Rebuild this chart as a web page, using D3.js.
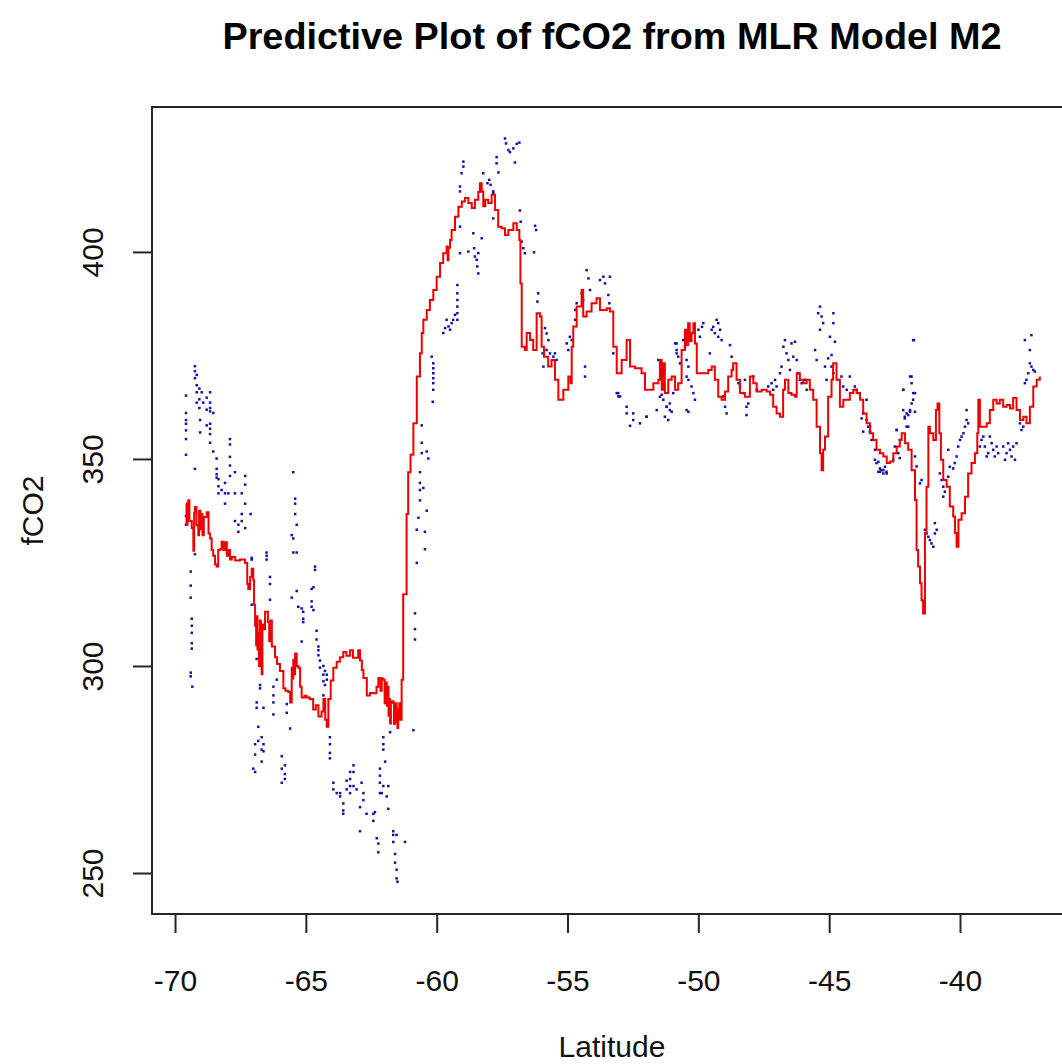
<!DOCTYPE html>
<html><head><meta charset="utf-8">
<script src="https://cdn.jsdelivr.net/npm/d3@7/dist/d3.min.js"></script>
<style>html,body{margin:0;padding:0;background:#fff;overflow:hidden}svg{display:block}text{font-family:"Liberation Sans",Arial,sans-serif}</style>
</head><body>
<script>
// ---------- DATA ----------
const titleText = "Predictive Plot of fCO2 from MLR Model M2";
const xLabel = "Latitude";
const yLabel = "fCO2";
const xTicks = [-70, -65, -60, -55, -50, -45, -40];
const yTicks = [250, 300, 350, 400];

// Model M2 prediction (red line)
const predLat = [
-69.58,-69.56,-69.52,-69.49,-69.45,-69.36,-69.30,-69.27,-69.24,-69.18,-69.11,-69.08,-69.03,-68.98,-68.95,-68.90,-68.79,-68.72,-68.66,-68.60,
-68.54,-68.47,-68.41,-68.35,-68.28,-68.22,-68.15,-68.08,-68.02,-67.95,-67.90,-67.83,-67.70,-67.52,-67.33,-67.24,-67.20,-67.13,-67.07,-67.01,
-66.98,-66.94,-66.90,-66.88,-66.85,-66.82,-66.79,-66.76,-66.72,-66.69,-66.66,-66.63,-66.56,-66.50,-66.45,-66.40,-66.35,-66.30,-66.18,-66.10,
-65.99,-65.86,-65.78,-65.67,-65.60,-65.54,-65.51,-65.48,-65.44,-65.41,-65.35,-65.29,-65.22,-65.16,-65.05,-64.97,-64.85,-64.72,-64.62,-64.52,
-64.40,-64.33,-64.26,-64.20,-64.14,-64.05,-63.95,-63.82,-63.70,-63.57,-63.45,-63.31,-63.20,-63.00,-62.93,-62.86,-62.80,-62.67,-62.55,-62.42,
-62.30,-62.23,-62.15,-62.10,-62.04,-61.99,-61.97,-61.91,-61.88,-61.84,-61.80,-61.78,-61.75,-61.72,-61.66,-61.63,-61.60,-61.56,-61.53,-61.50,
-61.47,-61.43,-61.40,-61.34,-61.28,-61.15,-61.09,-61.00,-60.89,-60.76,-60.64,-60.57,-60.51,-60.38,-60.26,-60.13,-60.00,-59.87,-59.75,-59.62,
-59.58,-59.55,-59.49,-59.43,-59.30,-59.17,-59.04,-58.92,-58.79,-58.66,-58.54,-58.41,-58.35,-58.28,-58.22,-58.15,-58.03,-57.90,-57.77,-57.65,
-57.52,-57.39,-57.26,-57.07,-56.94,-56.84,-56.80,-56.75,-56.63,-56.56,-56.43,-56.31,-56.18,-56.05,-55.99,-55.90,-55.74,-55.61,-55.48,-55.35,
-55.16,-54.97,-54.88,-54.84,-54.78,-54.65,-54.46,-54.40,-54.27,-54.08,-53.89,-53.76,-53.50,-53.38,-53.25,-53.12,-52.93,-52.74,-52.61,-52.42,
-52.17,-52.04,-51.72,-51.53,-51.47,-51.40,-51.34,-51.28,-51.15,-51.02,-50.89,-50.77,-50.64,-50.51,-50.45,-50.39,-50.33,-50.26,-50.19,-50.13,
-50.06,-49.94,-49.75,-49.62,-49.49,-49.37,-49.24,-49.11,-48.98,-48.86,-48.73,-48.67,-48.54,-48.41,-48.22,-48.03,-47.90,-47.77,-47.58,-47.39,
-47.26,-47.14,-47.01,-46.88,-46.76,-46.69,-46.56,-46.44,-46.31,-46.24,-46.12,-45.99,-45.86,-45.74,-45.61,-45.48,-45.35,-45.29,-45.23,-45.16,
-45.04,-44.91,-44.85,-44.72,-44.59,-44.46,-44.33,-44.21,-44.08,-43.95,-43.82,-43.70,-43.57,-43.44,-43.32,-43.19,-43.06,-42.93,-42.80,-42.68,
-42.55,-42.42,-42.30,-42.23,-42.10,-41.98,-41.85,-41.72,-41.66,-41.60,-41.53,-41.47,-41.41,-41.34,-41.28,-41.21,-41.15,-41.02,-40.92,-40.86,
-40.79,-40.73,-40.64,-40.51,-40.39,-40.26,-40.19,-40.13,-40.06,-39.94,-39.81,-39.69,-39.56,-39.43,-39.34,-39.30,-39.24,-39.11,-38.98,-38.86,
-38.73,-38.60,-38.48,-38.35,-38.22,-38.09,-37.97,-37.84,-37.71,-37.58,-37.46,-37.33,-37.20,-37.07,-36.95];
const predFco2 = [
339.2,334.1,339.5,340.0,335.0,333.3,327.8,337.0,338.4,334.0,331.6,337.5,333.0,336.7,331.6,336.0,337.1,332.0,330.8,328.0,
326.6,324.5,324.0,328.0,328.2,330.0,328.0,329.9,326.6,328.0,325.7,326.3,325.5,325.7,324.9,319.8,318.6,321.5,323.5,320.7,
314.8,309.7,305.0,312.0,304.0,308.0,300.0,311.0,308.0,298.0,310.0,308.9,313.1,313.1,310.6,306.0,311.0,304.7,302.1,300.5,
298.8,294.6,294.0,293.7,291.2,299.6,297.0,301.5,298.0,303.0,300.0,299.6,295.0,292.4,292.8,292.4,292.0,289.5,290.5,287.8,
289.0,292.0,287.0,285.3,292.0,296.5,299.6,301.0,302.1,303.4,302.5,303.8,302.0,303.8,301.3,299.0,297.1,292.9,293.5,293.4,
295.0,297.1,294.0,297.0,296.7,291.0,296.0,290.4,295.0,288.0,292.0,286.1,291.0,291.5,291.2,286.0,286.5,291.0,289.5,285.0,
287.0,291.0,287.0,296.7,317.3,336.7,346.8,351.0,358.6,369.9,375.5,380.4,383.6,386.0,388.4,390.8,394.0,397.3,399.7,401.3,
398.0,401.0,402.9,405.3,408.5,410.9,412.2,413.0,411.8,410.6,412.6,414.5,416.6,414.6,411.0,412.6,411.8,413.8,410.1,406.1,
405.7,404.1,405.3,406.9,405.3,402.9,392.4,377.1,376.3,380.4,378.7,376.3,385.2,384.4,377.1,374.7,372.3,373.9,369.1,364.3,
366.7,369.9,368.3,377.1,382.0,386.8,390.8,384.4,385.6,387.6,388.8,386.0,386.4,385.6,377.1,370.7,373.9,378.7,372.3,371.9,
370.7,366.7,368.3,369.1,373.9,366.7,373.1,365.9,369.1,369.9,366.7,368.3,376.3,381.2,377.5,382.8,378.5,380.4,382.8,377.9,
370.7,370.7,370.7,371.5,372.3,369.1,365.0,364.3,366.3,369.9,371.5,373.1,369.1,365.9,365.0,369.9,368.3,366.3,366.7,366.3,
365.5,362.6,361.0,360.2,366.7,369.1,365.9,365.5,365.0,370.7,369.1,368.3,369.1,366.7,364.3,357.8,351.4,347.3,352.2,355.4,
365.0,369.1,373.1,369.1,362.6,364.3,364.3,365.9,366.7,365.9,364.3,361.0,358.6,356.2,354.6,352.2,351.4,350.6,349.0,349.4,
351.4,353.0,354.6,356.2,353.8,352.2,347.3,340.1,328.0,324.0,320.0,315.9,312.7,332.1,343.3,357.8,356.2,354.6,361.8,363.4,
356.2,349.8,344.9,343.3,338.5,336.1,332.1,328.8,335.3,336.9,340.9,346.5,349.0,351.4,356.2,364.3,357.8,357.8,358.6,361.8,
364.3,363.4,364.3,362.6,363.0,362.2,364.7,361.8,359.4,360.2,358.6,362.6,367.5,369.1,369.9];

// Observed fCO2 (blue points)
const obsLat = [
-69.58,-69.58,-69.58,-69.58,-69.58,-69.58,-69.58,-69.58,-69.58,-69.40,-69.40,-69.40,-69.40,-69.40,-69.36,-69.36,-69.36,-69.36,-69.36,-69.34,
-69.24,-69.24,-69.24,-69.24,-69.24,-69.17,-69.17,-69.17,-69.17,-69.07,-69.07,-69.07,-69.04,-69.04,-68.98,-68.92,-68.79,-68.79,-68.79,-68.66,
-68.66,-68.66,-68.66,-68.66,-68.66,-68.66,-68.66,-68.54,-68.54,-68.41,-68.41,-68.41,-68.41,-68.34,-68.34,-68.34,-68.22,-68.09,-68.09,-68.09,
-67.96,-67.90,-67.90,-67.90,-67.90,-67.90,-67.71,-67.71,-67.71,-67.58,-67.58,-67.45,-67.45,-67.45,-67.32,-67.32,-67.32,-67.32,-67.11,-67.07,
-67.07,-67.07,-67.01,-66.94,-66.94,-66.94,-66.88,-66.88,-66.88,-66.82,-66.82,-66.75,-66.75,-66.69,-66.69,-66.69,-66.62,-66.62,-66.62,-66.50,
-66.50,-66.50,-66.37,-66.37,-66.37,-66.24,-66.24,-66.24,-66.24,-66.11,-65.92,-65.92,-65.92,-65.80,-65.80,-65.80,-65.73,-65.73,-65.60,-65.54,
-65.54,-65.48,-65.48,-65.48,-65.41,-65.41,-65.41,-65.35,-65.35,-65.35,-65.29,-65.16,-65.16,-65.10,-65.10,-65.10,-64.78,-64.78,-64.78,-64.71,
-64.71,-64.65,-64.65,-64.59,-64.59,-64.52,-64.52,-64.52,-64.46,-64.46,-64.33,-64.33,-64.33,-64.33,-64.27,-64.27,-64.20,-64.20,-64.08,-64.08,
-64.08,-64.08,-63.95,-63.95,-63.82,-63.69,-63.69,-63.57,-63.57,-63.57,-63.44,-63.44,-63.31,-63.31,-63.31,-63.31,-63.18,-63.18,-63.18,-63.06,
-62.93,-62.93,-62.87,-62.80,-62.80,-62.68,-62.42,-62.42,-62.36,-62.29,-62.23,-62.23,-62.17,-62.17,-62.17,-62.17,-62.10,-62.04,-62.04,-62.04,
-62.04,-61.97,-61.91,-61.85,-61.85,-61.78,-61.66,-61.66,-61.66,-61.59,-61.59,-61.53,-61.53,-61.53,-61.50,-61.21,-60.89,-60.83,-60.83,-60.83,
-60.76,-60.76,-60.70,-60.64,-60.64,-60.64,-60.64,-60.57,-60.57,-60.57,-60.51,-60.45,-60.45,-60.38,-60.38,-60.32,
-60.19,-60.13,-60.13,-60.13,-60.13,-60.13,-60.13,-60.15,-59.75,-59.68,-59.62,-59.55,-59.49,-59.43,-59.37,-59.30,-59.21,-59.21,-59.21,-59.21,
-59.21,-59.21,-59.11,-59.11,-59.11,-59.11,-59.05,-58.98,-58.98,-58.79,-58.60,-58.57,-58.54,-58.47,-58.41,-58.45,-58.41,-58.28,-58.22,-58.15,
-58.06,-57.99,-57.94,-57.84,-57.84,-57.84,-57.71,-57.71,-57.64,-57.39,-57.35,-57.26,-57.20,-57.07,-57.01,-56.94,-56.84,-56.82,-56.79,-56.75,
-56.69,-56.63,-56.28,-56.24,-56.20,-56.15,-56.12,-55.86,-55.80,-55.73,-55.80,-55.67,-55.54,-55.48,-55.95,-55.92,-55.42,-55.03,-54.97,-54.91,
-54.84,-54.71,-54.65,-54.71,-54.46,-54.40,-54.33,-54.33,-54.27,-54.20,-54.14,-53.76,-53.63,-53.57,-53.44,-53.38,-53.40,-53.25,-53.06,-52.99,
-52.74,-52.49,-51.98,-51.59,-51.47,-51.21,-51.09,-51.53,-50.83,-50.83,-52.74,-52.49,-52.23,-51.98,-53.12,-53.06,-52.61,
-51.40,-51.34,-51.21,-51.09,-51.02,-51.28,-51.15,-50.96,-50.89,-50.83,-50.77,-50.70,-50.58,-50.51,-50.45,-50.38,-50.45,-50.38,-50.26,-50.19,
-50.13,-50.45,-50.38,-50.00,-49.94,-49.86,-49.81,-49.49,-49.43,-49.37,-49.30,-49.24,-49.17,-49.11,-49.24,-49.56,-49.05,-48.98,-48.92,-48.79,
-48.73,-48.47,-48.41,-48.28,-48.22,-48.16,-48.09,-48.16,-47.90,-47.77,-47.33,-47.20,-47.14,-47.07,-47.01,-46.88,-46.82,-46.75,-46.69,-46.63,
-46.56,-46.50,-46.44,-46.37,-46.31,-46.24,-46.18,-46.12,-46.05,-45.93,-45.86,-45.54,-45.48,-45.42,-45.35,-45.29,-45.23,-45.35,-45.16,-45.10,
-45.04,-44.97,-44.91,-44.84,-44.84,-44.78,-44.91,-44.84,-44.53,-44.46,-44.33,-44.21,-44.02,-43.95,-43.89,-43.70,-43.57,-43.44,-43.44,-43.70,
-43.25,-43.12,-43.06,-42.93,-42.80,-42.55,-42.42,-42.30,-42.17,-42.11,-42.04,-41.98,-41.91,-41.85,-41.79,-41.72,
-43.76,-43.57,-43.51,-43.44,-43.38,-43.25,-43.19,-43.12,-43.06,-43.00,-42.93,-42.87,-42.81,-42.49,-42.42,-42.36,-42.30,-42.17,-42.17,-42.11,
-42.04,-41.98,-41.91,-41.91,-41.85,-41.79,-41.79,-41.85,-41.72,-41.76,-41.72,-41.66,-41.47,-41.53,-41.34,-41.28,-41.21,-41.15,-41.09,-41.02,
-40.96,-40.96,-40.89,-40.77,-40.70,-40.64,-40.64,-40.58,-40.45,-40.39,-40.26,-40.20,-40.45,-40.13,-40.07,-40.00,-39.94,-39.87,-39.81,-39.75,
-39.75,-39.69,-39.24,-39.18,-39.11,-39.05,-38.98,-38.92,-38.79,-38.73,-38.67,-38.60,-38.54,-38.86,-38.35,-38.28,-38.22,-38.16,-38.09,-38.03,
-37.97,-37.90,-37.84,-37.71,-37.65,-37.58,-37.52,-37.46,-37.39,-37.33,-37.27,-37.20,-37.14,-37.33,-37.52,-37.27];
const obsFco2 = [
365.3,361.1,359.4,358.5,356.9,354.8,351.0,336.2,334.1,322.8,319.4,316.5,298.4,297.5,311.4,309.7,308.0,305.5,304.2,295.0,
372.4,371.2,369.5,347.6,327.0,370.3,367.8,366.1,363.6,367.0,364.4,362.3,359.4,356.4,366.1,363.6,364.8,361.9,358.1,366.1,
363.6,362.3,361.5,358.5,357.3,356.0,353.9,361.1,351.8,350.1,347.6,346.3,345.5,345.1,343.4,341.7,342.5,344.2,341.7,339.2,
341.7,354.8,353.5,350.5,348.4,345.9,346.8,341.7,335.0,334.1,332.4,341.7,336.7,335.0,345.9,343.8,339.2,333.3,336.7,326.1,
325.7,314.8,275.2,281.1,278.6,274.4,301.7,291.2,289.9,285.3,281.9,295.4,294.6,282.8,279.8,276.9,289.9,281.1,279.4,327.4,
326.6,325.7,321.5,319.8,316.0,295.0,292.9,291.2,288.3,296.7,278.2,275.2,271.8,276.0,273.9,272.7,290.8,288.7,284.9,331.6,
316.5,346.8,330.8,327.4,340.4,339.2,336.7,334.1,327.4,318.1,314.3,313.9,305.9,313.1,311.4,310.6,318.6,315.6,314.3,319.0,
313.5,324.0,323.2,308.5,306.4,304.7,303.8,302.6,301.3,299.6,300.0,297.9,296.3,292.9,298.8,295.4,297.9,296.7,282.8,281.1,
279.0,277.7,271.8,270.2,269.3,269.3,268.5,266.8,265.1,264.3,272.3,270.2,274.4,272.7,271.0,269.3,276.0,274.4,271.0,270.2,
265.9,260.1,271.8,269.3,267.6,264.3,264.3,262.6,264.7,258.4,257.1,255.0,275.2,273.5,271.8,269.3,269.3,282.8,281.1,279.8,
271.0,276.9,268.5,271.0,265.5,284.0,260.1,259.2,257.5,254.6,252.5,259.2,250.8,248.7,247.9,257.5,284.5,312.7,308.9,306.4,
332.9,324.9,335.8,346.8,344.2,342.5,340.0,358.1,353.9,351.4,343.0,332.4,328.2,351.8,337.5,350.1,
374.7,373.1,371.9,370.7,369.5,368.3,366.7,363.8,380.4,381.6,383.6,382.0,381.2,382.8,383.6,384.8,392.0,390.0,388.4,386.8,
385.2,383.6,415.8,414.6,406.1,399.7,419.0,421.8,420.6,400.1,404.5,400.9,398.9,398.1,399.7,396.5,394.8,403.3,419.0,411.3,
416.6,417.4,416.2,414.6,414.2,408.1,422.9,421.4,419.2,427.4,426.2,424.6,424.1,425.0,421.6,426.1,426.4,410.0,407.3,402.5,
400.9,399.7,399.9,406.3,405.3,388.0,390.0,381.6,380.3,378.7,376.3,375.5,374.7,375.5,375.5,372.3,373.9,377.9,376.3,379.5,
378.7,386.0,387.6,383.6,390.0,388.4,372.3,369.9,395.6,393.6,390.8,393.2,394.0,392.4,389.6,394.0,387.6,375.5,365.9,365.1,
362.6,361.0,360.2,361.8,365.0,362.6,361.8,373.9,377.9,375.5,361.0,359.4,358.6,360.2,365.9,365.1,358.0,
365.5,364.3,362.6,363.4,361.4,360.2,359.4,365.9,377.9,376.3,374.7,373.1,378.7,377.1,373.9,372.3,369.9,369.1,367.5,365.9,
364.3,361.8,361.4,381.2,379.5,381.9,382.8,381.2,381.9,380.4,383.6,379.5,381.2,378.7,382.8,375.5,365.1,362.6,361.0,377.5,
374.7,368.3,367.5,365.9,369.1,362.6,363.4,360.6,369.9,366.7,367.5,368.3,366.7,369.1,367.5,370.7,372.3,377.1,378.7,375.5,
373.9,371.5,377.9,374.7,378.3,373.9,370.7,369.1,368.3,369.1,366.7,376.3,373.9,385.2,386.8,384.4,382.8,381.2,372.3,369.1,
374.3,379.5,375.1,385.2,382.8,378.3,372.3,370.7,369.9,367.5,366.7,369.9,367.5,366.7,365.9,361.0,359.4,357.8,356.6,356.6,
349.8,349.3,346.9,347.3,346.5,349.8,357.0,354.6,366.7,360.2,361.0,357.8,361.8,369.9,378.7,365.9,
359.8,364.3,357.8,356.6,354.6,352.2,349.0,346.9,347.7,347.3,346.5,348.1,346.9,353.0,357.0,351.4,350.2,366.7,361.8,359.8,
357.8,360.6,361.4,369.9,368.3,365.9,364.3,363.4,361.4,378.7,350.6,348.2,344.9,344.1,332.9,332.0,331.2,330.4,329.6,328.8,
332.0,334.5,332.9,346.5,344.9,343.3,340.9,342.1,345.7,348.1,347.7,349.0,352.2,350.6,353.0,354.6,355.4,356.2,357.8,359.4,
361.8,358.6,353.0,354.6,355.4,353.0,350.6,351.4,353.8,352.2,350.6,353.0,351.4,355.4,353.0,349.8,351.4,353.8,352.2,350.6,
353.0,349.8,353.8,358.6,357.0,357.8,368.3,369.1,370.7,373.1,372.3,371.5,371.1,376.3,378.7,379.9];

// ---------- CHART ----------
const W = 1062, H = 1064;
const plot = {left: 152, right: 1072, top: 107, bottom: 914};
const svg = d3.select("body").append("svg").attr("width", W).attr("height", H);

const x = d3.scaleLinear().domain([-70.88, -35.72]).range([plot.left, plot.right]);
const y = d3.scaleLinear().domain([240.1, 435.0]).range([plot.bottom, plot.top]);

const axisColor = "#262626";
const fontAxis = 30;
const fmt = d => String(d);  // plain hyphen-minus like R

// title
svg.append("text").attr("x", (plot.left + plot.right) / 2).attr("y", 49)
  .attr("text-anchor", "middle").attr("font-weight", "bold").attr("font-size", 37.8)
  .attr("fill", "#000").text(titleText);

// observed points
const obs = obsLat.map((d, i) => ({lat: d, v: obsFco2[i]}));
svg.append("g").selectAll("rect").data(obs).enter().append("rect")
  .attr("x", d => x(d.lat) - 1.25).attr("y", d => y(d.v) - 1.25)
  .attr("width", 2.5).attr("height", 2.5).attr("fill", "#1212a8");

// predicted line
const pred = predLat.map((d, i) => ({lat: d, v: predFco2[i]}));
svg.append("path").datum(pred)
  .attr("d", d3.line().x(d => x(d.lat)).y(d => y(d.v)).curve(d3.curveStepAfter))
  .attr("fill", "none").attr("stroke", "#ee0000").attr("stroke-width", 2).attr("stroke-linejoin", "miter");

// box
svg.append("rect").attr("x", plot.left).attr("y", plot.top)
  .attr("width", plot.right - plot.left).attr("height", plot.bottom - plot.top)
  .attr("fill", "none").attr("stroke", axisColor).attr("stroke-width", 2);

// x axis
const xAxis = d3.axisBottom(x).tickValues(xTicks).tickSize(19).tickFormat(fmt);
const gx = svg.append("g").attr("transform", `translate(0,${plot.bottom})`).call(xAxis);
gx.select(".domain").attr("d", `M${x(xTicks[0])},0H${x(xTicks[xTicks.length-1])}`).attr("stroke", axisColor).attr("stroke-width", 2);
gx.selectAll(".tick line").attr("stroke", axisColor).attr("stroke-width", 2);
gx.selectAll(".tick text").attr("font-size", fontAxis).attr("fill", "#111")
  .attr("font-family", "Liberation Sans, Arial, sans-serif").attr("dy", 0).attr("y", 77);

// y axis
const yAxis = d3.axisLeft(y).tickValues(yTicks).tickSize(19).tickFormat(fmt);
const gy = svg.append("g").attr("transform", `translate(${plot.left},0)`).call(yAxis);
gy.select(".domain").attr("d", `M0,${y(yTicks[0])}V${y(yTicks[yTicks.length-1])}`).attr("stroke", axisColor).attr("stroke-width", 2);
gy.selectAll(".tick line").attr("stroke", axisColor).attr("stroke-width", 2);
gy.selectAll(".tick text").attr("font-size", fontAxis).attr("fill", "#111")
  .attr("font-family", "Liberation Sans, Arial, sans-serif")
  .attr("x", null).attr("dy", null).attr("text-anchor", "middle")
  .attr("transform", "translate(-49,0) rotate(-90)").attr("y", 0);

// axis labels
svg.append("text").attr("x", (plot.left + plot.right) / 2).attr("y", 1057)
  .attr("text-anchor", "middle").attr("font-size", fontAxis).attr("fill", "#111").text(xLabel);
svg.append("text").attr("transform", `translate(43,${(plot.top + plot.bottom) / 2}) rotate(-90)`)
  .attr("text-anchor", "middle").attr("font-size", fontAxis).attr("fill", "#111").text(yLabel);
</script>
</body></html>
